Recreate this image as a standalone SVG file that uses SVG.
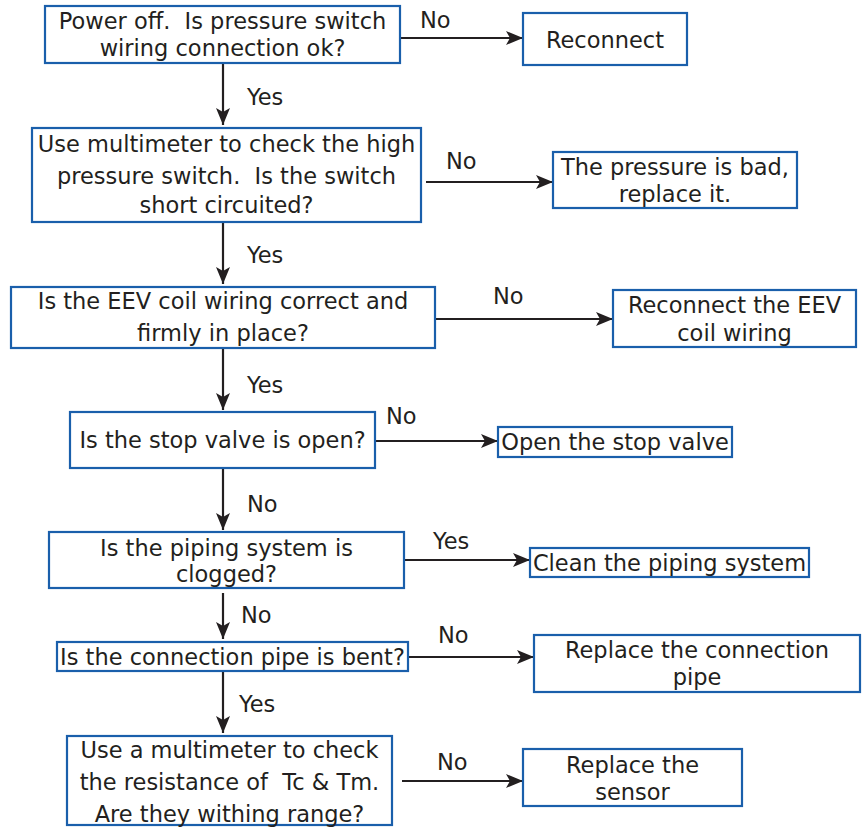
<svg xmlns="http://www.w3.org/2000/svg" width="863" height="828" viewBox="0 0 863 828">
<style>
.box{fill:#fff;stroke:#1a5fab;stroke-width:2.2}
text{font-family:"DejaVu Sans","Liberation Sans",sans-serif;font-size:22.5px;fill:#231f20;white-space:pre}
.c{text-anchor:middle}
.ln{stroke:#231f20;stroke-width:2.2;fill:none;marker-end:url(#ah)}
</style>
<defs>
<marker id="ah" markerUnits="userSpaceOnUse" markerWidth="18" markerHeight="14" refX="17" refY="7" orient="auto">
<path d="M0,0 L17,7 L0,14 L4,7 Z" fill="#231f20"/>
</marker>
</defs>
<rect width="863" height="828" fill="#fff"/>
<g id="connectors">
<line class="ln" x1="400" y1="38" x2="523" y2="38"/>
<text x="420" y="28">No</text>
<line class="ln" x1="223" y1="63" x2="223" y2="125"/>
<text x="247" y="105">Yes</text>
<line class="ln" x1="426" y1="182" x2="553" y2="182"/>
<text x="446" y="169">No</text>
<line class="ln" x1="223" y1="222" x2="223" y2="284"/>
<text x="247" y="263">Yes</text>
<line class="ln" x1="435" y1="319" x2="613" y2="319"/>
<text x="493" y="304">No</text>
<line class="ln" x1="223" y1="348" x2="223" y2="410"/>
<text x="247" y="393">Yes</text>
<line class="ln" x1="375" y1="441" x2="498" y2="441"/>
<text x="386" y="424">No</text>
<line class="ln" x1="223" y1="468" x2="223" y2="530"/>
<text x="247" y="512">No</text>
<line class="ln" x1="404" y1="560" x2="530" y2="560"/>
<text x="433" y="549">Yes</text>
<line class="ln" x1="223" y1="593" x2="223" y2="639"/>
<text x="241" y="623">No</text>
<line class="ln" x1="408" y1="657" x2="534" y2="657"/>
<text x="438" y="643">No</text>
<line class="ln" x1="223" y1="671" x2="223" y2="733"/>
<text x="239" y="712">Yes</text>
<line class="ln" x1="402" y1="781" x2="523" y2="781"/>
<text x="437" y="770">No</text>
</g>
<g id="n1">
<rect class="box" x="45" y="6" width="355" height="57"/>
<text class="c" x="222.5" y="29">Power off.  Is pressure switch</text>
<text class="c" x="222.5" y="56">wiring connection ok?</text>
</g>
<g id="n1r">
<rect class="box" x="523" y="13" width="164" height="52"/>
<text class="c" x="605" y="48">Reconnect</text>
</g>
<g id="n2">
<rect class="box" x="32" y="128" width="389" height="94"/>
<text class="c" x="226.5" y="152">Use multimeter to check the high</text>
<text class="c" x="226.5" y="184">pressure switch.  Is the switch</text>
<text class="c" x="226.5" y="213">short circuited?</text>
</g>
<g id="n2r">
<rect class="box" x="553" y="152" width="244" height="56"/>
<text class="c" x="675" y="175">The pressure is bad,</text>
<text class="c" x="675" y="202">replace it.</text>
</g>
<g id="n3">
<rect class="box" x="11" y="287" width="424" height="61"/>
<text class="c" x="223" y="309">Is the EEV coil wiring correct and</text>
<text class="c" x="223" y="341">firmly in place?</text>
</g>
<g id="n3r">
<rect class="box" x="613" y="290" width="243" height="57"/>
<text class="c" x="734.5" y="313">Reconnect the EEV</text>
<text class="c" x="734.5" y="341">coil wiring</text>
</g>
<g id="n4">
<rect class="box" x="70" y="412" width="305" height="56"/>
<text class="c" x="222.5" y="448">Is the stop valve is open?</text>
</g>
<g id="n4r">
<rect class="box" x="498" y="427" width="234" height="30"/>
<text class="c" x="615" y="450">Open the stop valve</text>
</g>
<g id="n5">
<rect class="box" x="49" y="532" width="355" height="56"/>
<text class="c" x="226.5" y="556">Is the piping system is</text>
<text class="c" x="226.5" y="582">clogged?</text>
</g>
<g id="n5r">
<rect class="box" x="530" y="548" width="279" height="29"/>
<text class="c" x="669.5" y="571">Clean the piping system</text>
</g>
<g id="n6">
<rect class="box" x="57" y="642" width="351" height="29"/>
<text class="c" x="232.5" y="665">Is the connection pipe is bent?</text>
</g>
<g id="n6r">
<rect class="box" x="534" y="635" width="326" height="57"/>
<text class="c" x="697" y="658">Replace the connection</text>
<text class="c" x="697" y="685">pipe</text>
</g>
<g id="n7">
<rect class="box" x="67" y="736" width="325" height="89"/>
<text class="c" x="229.5" y="758">Use a multimeter to check</text>
<text class="c" x="229.5" y="790">the resistance of  Tc &amp; Tm.</text>
<text class="c" x="229.5" y="822">Are they withing range?</text>
</g>
<g id="n7r">
<rect class="box" x="523" y="749" width="219" height="57"/>
<text class="c" x="632.5" y="773">Replace the</text>
<text class="c" x="632.5" y="800">sensor</text>
</g>
</svg>
